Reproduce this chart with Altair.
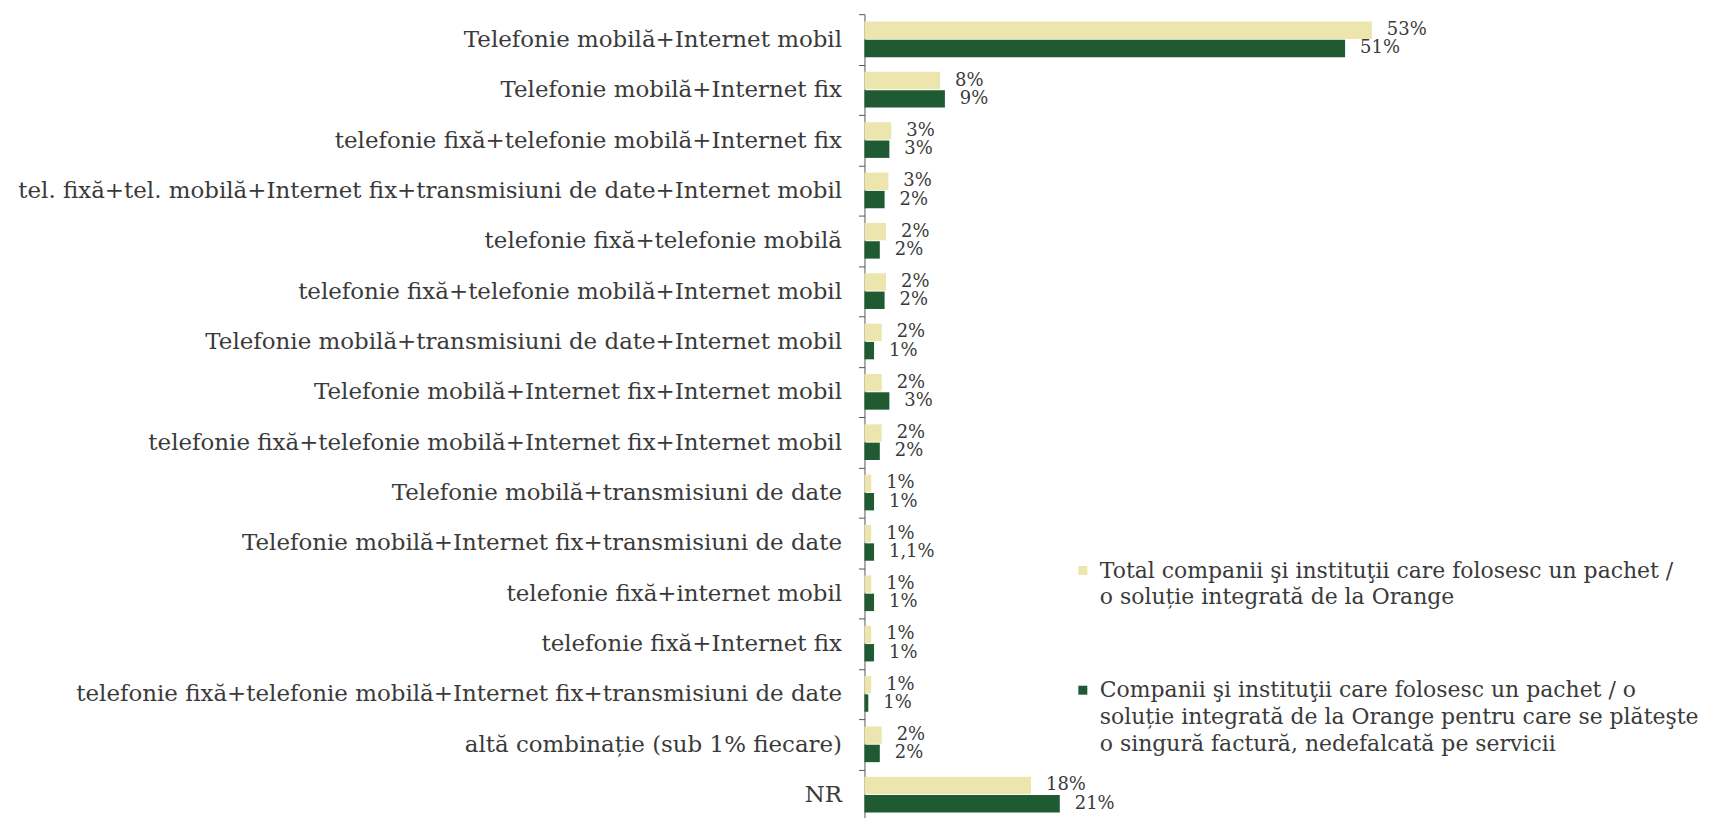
import altair as alt
import pandas as pd

categories = [
    "Telefonie mobilă+Internet mobil",
    "Telefonie mobilă+Internet fix",
    "telefonie fixă+telefonie mobilă+Internet fix",
    "tel. fixă+tel. mobilă+Internet fix+transmisiuni de date+Internet mobil",
    "telefonie fixă+telefonie mobilă",
    "telefonie fixă+telefonie mobilă+Internet mobil",
    "Telefonie mobilă+transmisiuni de date+Internet mobil",
    "Telefonie mobilă+Internet fix+Internet mobil",
    "telefonie fixă+telefonie mobilă+Internet fix+Internet mobil",
    "Telefonie mobilă+transmisiuni de date",
    "Telefonie mobilă+Internet fix+transmisiuni de date",
    "telefonie fixă+internet mobil",
    "telefonie fixă+Internet fix",
    "telefonie fixă+telefonie mobilă+Internet fix+transmisiuni de date",
    "altă combinație (sub 1% fiecare)",
    "NR",
]

series = [
    "Total companii şi instituţii care folosesc un pachet / o soluție integrată de la Orange",
    "Companii şi instituţii care folosesc un pachet / o soluție integrată de la Orange pentru care se plăteşte o singură factură, nedefalcată pe servicii",
]

legend_lines = [
    "Total companii şi instituţii care folosesc un pachet /\no soluție integrată de la Orange",
    "Companii şi instituţii care folosesc un pachet / o\nsoluție integrată de la Orange pentru care se plăteşte\no singură factură, nedefalcată pe servicii",
]

total_values = [53.0, 7.9, 2.8, 2.5, 2.25, 2.25, 1.8, 1.8, 1.8, 0.7, 0.7, 0.7, 0.7, 0.7, 1.8, 17.4]
single_values = [50.2, 8.4, 2.6, 2.1, 1.6, 2.1, 1.0, 2.6, 1.6, 1.0, 1.0, 1.0, 1.0, 0.4, 1.6, 20.4]

total_labels = ["53%", "8%", "3%", "3%", "2%", "2%", "2%", "2%", "2%", "1%", "1%", "1%", "1%", "1%", "2%", "18%"]
single_labels = ["51%", "9%", "3%", "2%", "2%", "2%", "1%", "3%", "2%", "1%", "1,1%", "1%", "1%", "1%", "2%", "21%"]

colors = ["#ECE6AE", "#1F5A32"]

rows = []
for i, c in enumerate(categories):
    rows.append({"cat": c, "series": series[0], "value": total_values[i], "label": total_labels[i]})
    rows.append({"cat": c, "series": series[1], "value": single_values[i], "label": single_labels[i]})
df = pd.DataFrame(rows)

legend_df = pd.DataFrame({"series": series, "text": legend_lines})

FONT = "DejaVu Serif"
TXT = "#3a3a3a"

color_scale = alt.Scale(domain=series, range=colors)

y_enc = alt.Y(
    "cat:N",
    sort=categories,
    title=None,
    scale=alt.Scale(paddingInner=0, paddingOuter=0),
    axis=alt.Axis(
        tickBand="extent",
        tickSize=6,
        tickColor="#555555",
        domainColor="#555555",
        labelFont=FONT,
        labelFontSize=23,
        labelColor=TXT,
        labelPadding=17,
        labelLimit=0,
    ),
)
yoff_enc = alt.YOffset("series:N", sort=series, scale=alt.Scale(paddingOuter=0.4, paddingInner=0.05))
x_enc = alt.X("value:Q", scale=alt.Scale(domain=[0, 88]), axis=None)

base = alt.Chart(df)

bars = base.mark_bar().encode(
    y=y_enc,
    yOffset=yoff_enc,
    x=x_enc,
    color=alt.Color("series:N", scale=color_scale, legend=None),
)

labels = base.mark_text(
    align="left", baseline="middle", dx=15, font=FONT, fontSize=18, color=TXT
).encode(
    y=y_enc,
    yOffset=yoff_enc,
    x=x_enc,
    text="label:N",
)

legend_layers = []
sym_y = [558, 678]
txt_y = [565, 685]
for i, s in enumerate(series):
    ldf = legend_df[legend_df["series"] == s]
    sym = alt.Chart(ldf).mark_square(size=81, opacity=1).encode(
        x=alt.value(219),
        y=alt.value(sym_y[i]),
        color=alt.Color("series:N", scale=color_scale, legend=None),
    )
    txt = alt.Chart(ldf).mark_text(
        align="left", baseline="alphabetic", font=FONT, fontSize=22,
        color=TXT, lineBreak="\n", lineHeight=27,
    ).encode(
        x=alt.value(236),
        y=alt.value(txt_y[i]),
        text="text:N",
    )
    legend_layers += [sym, txt]

chart = alt.layer(bars, labels, *legend_layers).properties(
    width=845,
    height=808,
    autosize=alt.AutoSizeParams(type="none"),
    padding={"left": 859, "top": 5, "right": 0, "bottom": 0},
).configure_view(stroke=None)

chart.save("out.html", embed_options={"renderer": "svg", "actions": False})
